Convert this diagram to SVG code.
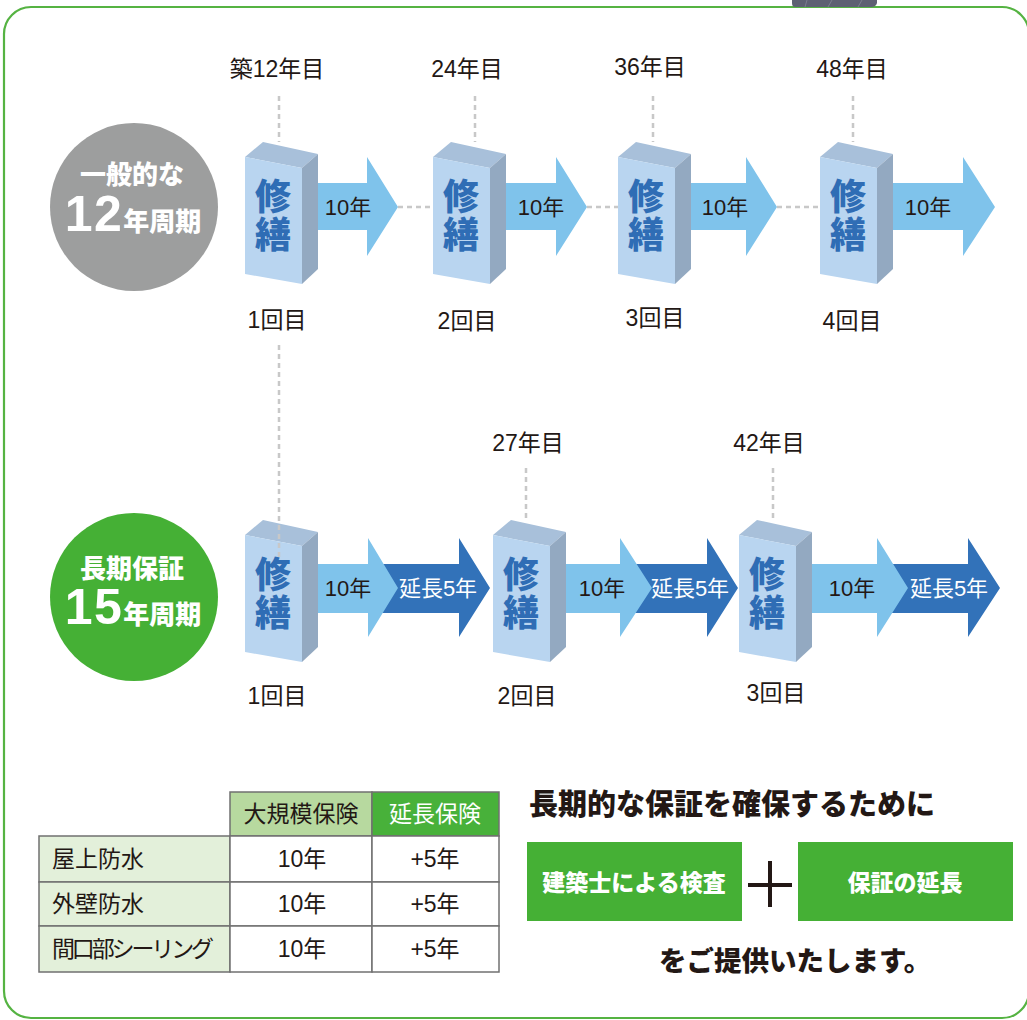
<svg xmlns="http://www.w3.org/2000/svg" xmlns:xlink="http://www.w3.org/1999/xlink" width="1027" height="1020" viewBox="0 0 1027 1020">
<defs>
<style>
.t{font-family:"Liberation Sans","Noto Sans CJK JP",sans-serif;fill:#231815}
.m{text-anchor:middle}
.lbl{font-size:23px}
.arr{font-size:22px}
.wt{fill:#fff}
.hb{font-family:"Noto Sans CJK JP",sans-serif;font-weight:900}
.dash{stroke:#c8c8c8;stroke-width:2.5;stroke-dasharray:5 4;fill:none}
.la{fill:#7fc3eb}
.da{fill:#3272b9}
.cell{stroke:#707070;stroke-width:1.5}
.syu{font-family:"Noto Sans CJK JP",sans-serif;font-weight:900;font-size:36px;fill:#2f6db5;text-anchor:middle}
</style>
<g id="blk">
<polygon points="0,15 18,0 73,12 57,26" fill="#a8c0da"/>
<polygon points="0,15 57,26 57,142 0,132" fill="#b9d5f0"/>
<polygon points="57,26 73,12 73,127 57,142" fill="#93a9c1"/>
<text class="syu" x="28" y="68">修</text>
<text class="syu" x="28" y="106">繕</text>
</g>
</defs>
<rect width="1027" height="1020" fill="#fff"/>
<rect x="4" y="7" width="1025" height="1011" rx="27" fill="none" stroke="#55b342" stroke-width="2.2"/>
<g id="deco">
<path d="M792,0 H877 V3 Q876,7 871,7 H795 Q792,7 792,3 Z" fill="#5e6073"/>
<path d="M807,0 L805,7 M832,0 L828,7 M862,0 L858,7" stroke="#7b7d90" stroke-width="1"/>
</g>

<g id="circle-12">
<circle cx="134" cy="207" r="84" fill="#9d9e9e"/>
<text class="hb m wt" x="132" y="184" font-size="26">一般的な</text>
<text class="hb m wt" x="133" y="231"><tspan font-family="Liberation Sans" font-weight="bold" font-size="50" letter-spacing="1.5">12</tspan><tspan font-size="26">年周期</tspan></text>
</g>
<g id="circle-15">
<circle cx="134" cy="597" r="84" fill="#45b035"/>
<text class="hb m wt" x="132" y="578" font-size="26">長期保証</text>
<text class="hb m wt" x="133" y="624"><tspan font-family="Liberation Sans" font-weight="bold" font-size="50" letter-spacing="1.5">15</tspan><tspan font-size="26">年周期</tspan></text>
</g>

<g id="connectors">
<path class="dash" d="M279,96 V142 M475,96 V142 M653,96 V142 M853,96 V142"/>
<path class="dash" d="M398,207 H433 M587,207 H618 M777,207 H820"/>
<path class="dash" d="M526,468 V520 M773,468 V520"/>
<path class="la" d="M318,183 H367 V157 L398,207 L367,256 V230 H318 Z"/>
<path class="la" d="M506,183 H556 V157 L587,207 L556,256 V230 H506 Z"/>
<path class="la" d="M691,183 H746 V157 L777,207 L746,256 V230 H691 Z"/>
<path class="la" d="M893,183 H963 V157 L995,207 L963,256 V230 H893 Z"/>
<path class="da" d="M380,564 H459 V538 L490,588 L459,637 V613 H380 Z"/>
<path class="la" d="M318,564 H368 V538 L398,588 L368,637 V613 H318 Z"/>
<path class="da" d="M630,564 H707 V538 L738,588 L707,637 V613 H630 Z"/>
<path class="la" d="M565,564 H620 V538 L652,588 L620,637 V613 H565 Z"/>
<path class="da" d="M890,564 H968 V538 L1000,588 L968,637 V613 H890 Z"/>
<path class="la" d="M811,564 H877 V538 L908,588 L877,637 V613 H811 Z"/>
<text class="t m arr" x="348" y="215">10年</text>
<text class="t m arr" x="541" y="215">10年</text>
<text class="t m arr" x="725" y="215">10年</text>
<text class="t m arr" x="928" y="215">10年</text>
<text class="t m arr" x="348" y="596">10年</text>
<text class="t m arr wt" x="438" y="596" font-size="21">延長5年</text>
<text class="t m arr" x="602" y="596">10年</text>
<text class="t m arr wt" x="690" y="596" font-size="21">延長5年</text>
<text class="t m arr" x="852" y="596">10年</text>
<text class="t m arr wt" x="949" y="596" font-size="21">延長5年</text>
</g>

<g id="top-1"><use xlink:href="#blk" transform="translate(245,142)"/></g>
<g id="top-2"><use xlink:href="#blk" transform="translate(433,142)"/></g>
<g id="top-3"><use xlink:href="#blk" transform="translate(618,142)"/></g>
<g id="top-4"><use xlink:href="#blk" transform="translate(820,142)"/></g>
<g id="bot-1"><use xlink:href="#blk" transform="translate(245,520)"/></g>
<g id="bot-2"><use xlink:href="#blk" transform="translate(493,520)"/></g>
<g id="bot-3"><use xlink:href="#blk" transform="translate(739,520)"/></g>
<path class="dash" d="M279,345 V557"/>

<g id="labels">
<text class="t m lbl" x="277" y="77">築12年目</text>
<text class="t m lbl" x="467" y="77">24年目</text>
<text class="t m lbl" x="650" y="75">36年目</text>
<text class="t m lbl" x="852" y="77">48年目</text>
<text class="t m lbl" x="277" y="328">1回目</text>
<text class="t m lbl" x="467" y="329">2回目</text>
<text class="t m lbl" x="655" y="326">3回目</text>
<text class="t m lbl" x="852" y="329">4回目</text>
<text class="t m lbl" x="528" y="451">27年目</text>
<text class="t m lbl" x="769" y="451">42年目</text>
<text class="t m lbl" x="277" y="704">1回目</text>
<text class="t m lbl" x="527" y="704">2回目</text>
<text class="t m lbl" x="776" y="701">3回目</text>
</g>

<g id="table">
<rect class="cell" x="230" y="792" width="142" height="44" fill="#b7d99f"/>
<rect class="cell" x="372" y="792" width="127" height="44" fill="#48b13a"/>
<rect class="cell" x="39" y="836" width="191" height="46" fill="#e3f0da"/>
<rect class="cell" x="39" y="882" width="191" height="44" fill="#e3f0da"/>
<rect class="cell" x="39" y="926" width="191" height="46" fill="#e3f0da"/>
<rect class="cell" x="230" y="836" width="142" height="46" fill="#fff"/>
<rect class="cell" x="230" y="882" width="142" height="44" fill="#fff"/>
<rect class="cell" x="230" y="926" width="142" height="46" fill="#fff"/>
<rect class="cell" x="372" y="836" width="127" height="46" fill="#fff"/>
<rect class="cell" x="372" y="882" width="127" height="44" fill="#fff"/>
<rect class="cell" x="372" y="926" width="127" height="46" fill="#fff"/>
<text class="t m lbl" x="301" y="822">大規模保険</text>
<text class="t m lbl wt" x="435" y="822">延長保険</text>
<text class="t lbl" x="52" y="867">屋上防水</text>
<text class="t lbl" x="52" y="912">外壁防水</text>
<text class="t lbl" x="52" y="957" textLength="162">間口部シーリング</text>
<text class="t m lbl" x="302" y="867">10年</text>
<text class="t m lbl" x="302" y="912">10年</text>
<text class="t m lbl" x="302" y="957">10年</text>
<text class="t m lbl" x="435" y="867">+5年</text>
<text class="t m lbl" x="435" y="912">+5年</text>
<text class="t m lbl" x="435" y="957">+5年</text>
</g>

<g id="message">
<text class="t hb" x="529" y="815" font-size="29">長期的な保証を確保するために</text>
<g id="box-inspect">
<rect x="527" y="842" width="215" height="79" fill="#45b035"/>
<text class="hb m wt" x="634" y="891" font-size="23">建築士による検査</text>
</g>
<path d="M748,885 H792 M770,861 V907" stroke="#231815" stroke-width="4" fill="none"/>
<g id="box-extend">
<rect x="798" y="842" width="215" height="79" fill="#45b035"/>
<text class="hb m wt" x="905" y="891" font-size="23">保証の延長</text>
</g>
<text class="t hb" x="659" y="971" font-size="27.5">をご提供いたします。</text>
</g>
</svg>
